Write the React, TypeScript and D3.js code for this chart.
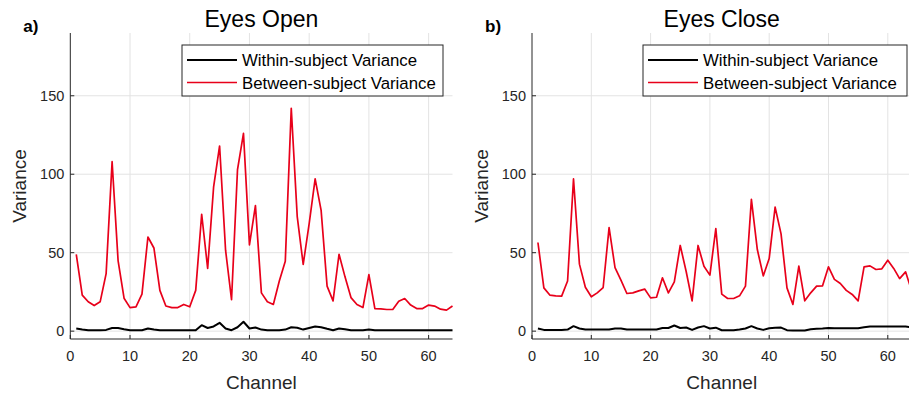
import React from "react";
import * as d3 from "d3";

const channels = d3.range(1, 65);

const openWithin = [1.7, 1.0, 0.6, 0.6, 0.6, 0.8, 2.0, 2.0, 1.2, 0.6, 0.6, 0.6, 1.7, 1.0, 0.6, 0.6, 0.6, 0.6, 0.6, 0.6, 0.6, 3.8, 2.0, 3.0, 5.3, 1.7, 0.6, 2.5, 6.0, 1.7, 2.3, 1.0, 0.6, 0.6, 0.6, 1.0, 2.5, 2.2, 1.0, 2.0, 3.0, 2.5, 1.5, 0.6, 1.7, 1.2, 0.6, 0.6, 0.6, 1.0, 0.6, 0.6, 0.6, 0.6, 0.6, 0.6, 0.6, 0.6, 0.6, 0.6, 0.6, 0.6, 0.6, 0.6];
const openBetween = [49, 23, 18.7, 16.3, 18.7, 36.7, 108, 45, 21, 15, 15.5, 23.6, 60, 53, 26, 16, 15, 15, 17, 15.5, 26, 74.5, 40, 92, 118, 51.6, 20, 103, 126, 55, 80, 24.4, 18.7, 17, 32, 44.6, 142, 73, 42.5, 68.6, 97, 77, 28.7, 19.3, 49, 34.6, 21.4, 17, 15, 36, 14.4, 14.2, 13.8, 13.8, 19, 20.8, 16.6, 14.4, 14.4, 16.6, 16, 14, 13.4, 16];
const closeWithin = [1.7, 0.8, 0.8, 0.8, 0.8, 1.0, 3.2, 1.7, 1.0, 1.0, 1.0, 1.0, 1.0, 1.7, 1.7, 1.0, 1.0, 1.0, 1.0, 1.0, 1.0, 2.0, 2.0, 3.6, 2.0, 2.3, 0.8, 2.3, 3.2, 1.7, 2.2, 0.6, 0.6, 0.6, 1.0, 1.7, 3.2, 1.7, 0.8, 1.9, 2.1, 2.3, 0.6, 0.4, 0.4, 0.4, 1.2, 1.5, 1.7, 2.0, 1.9, 1.9, 1.9, 1.9, 1.9, 2.5, 3.0, 3.0, 3.0, 3.0, 3.0, 3.0, 3.0, 2.4];
const closeBetween = [56.5, 27.6, 23, 22.5, 22.3, 32, 97, 42.7, 28, 21.9, 24.4, 27.8, 66, 40.5, 32.5, 24, 24.4, 25.7, 26.8, 21.2, 21.6, 34, 24.4, 31.4, 54.6, 38, 19.3, 54.6, 41.4, 35.7, 65.4, 23.6, 20.8, 20.8, 22.5, 28.7, 84, 52, 35.2, 46.3, 79, 62, 27.6, 17, 41.4, 19.3, 24.4, 28.7, 28.9, 41, 33, 30.4, 26, 23.4, 19.3, 41, 41.6, 39.3, 39.7, 45.2, 40, 33.5, 37.8, 26];

const xTicks = [0, 10, 20, 30, 40, 50, 60];
const yTicks = [0, 50, 100, 150];
const seriesNames = ["Within-subject Variance", "Between-subject Variance"];
const seriesColors = ["#000000", "#e8001a"];

const FONT = "'Liberation Sans', Arial, sans-serif";

type PanelProps = {
  left: number;
  right: number;
  title: string;
  letter: string;
  within: number[];
  between: number[];
  legendX: number;
  legendW: number;
};

function Panel({ left, right, title, letter, within, between, legendX, legendW }: PanelProps) {
  const top = 33;
  const bottom = 339;
  const x = d3.scaleLinear().domain([0, 64]).range([left, right]);
  const y = d3.scaleLinear().domain([-5, 190]).range([bottom, top]);
  const line = d3
    .line<number>()
    .x((_, i) => x(channels[i]))
    .y((d) => y(d));
  const gridX = d3.range(10, 65, 10);
  const axisColor = "#262626";
  const gridColor = "#e3e3e3";
  const legY = 45;
  const legH = 51;
  return (
    <g>
      {gridX.map((t) => (
        <line key={"gx" + t} x1={x(t)} x2={x(t)} y1={top} y2={bottom} stroke={gridColor} strokeWidth={1} />
      ))}
      {yTicks.map((t) => (
        <line key={"gy" + t} x1={left} x2={right} y1={y(t)} y2={y(t)} stroke={gridColor} strokeWidth={1} />
      ))}
      <path d={line(within) || ""} fill="none" stroke={seriesColors[0]} strokeWidth={2} strokeLinejoin="round" />
      <path d={line(between) || ""} fill="none" stroke={seriesColors[1]} strokeWidth={1.7} strokeLinejoin="round" />
      <line x1={left} x2={left} y1={top} y2={bottom} stroke={axisColor} strokeWidth={1} />
      <line x1={left} x2={right} y1={bottom} y2={bottom} stroke={axisColor} strokeWidth={1} />
      {xTicks.map((t) => (
        <g key={"xt" + t}>
          <line x1={x(t)} x2={x(t)} y1={bottom} y2={bottom - 4} stroke={axisColor} />
          <text x={x(t)} y={361} textAnchor="middle" fontSize={14.5} fill={axisColor} fontFamily={FONT}>
            {t}
          </text>
        </g>
      ))}
      {yTicks.map((t) => (
        <g key={"yt" + t}>
          <line x1={left} x2={left + 4} y1={y(t)} y2={y(t)} stroke={axisColor} />
          <text x={left - 6} y={y(t) + 5} textAnchor="end" fontSize={14.5} fill={axisColor} fontFamily={FONT}>
            {t}
          </text>
        </g>
      ))}
      <text x={(left + right) / 2} y={389} textAnchor="middle" fontSize={19} fill={axisColor} fontFamily={FONT}>
        Channel
      </text>
      <text
        transform={`translate(${left - 44},${(top + bottom) / 2}) rotate(-90)`}
        textAnchor="middle"
        fontSize={19}
        fill={axisColor}
        fontFamily={FONT}
      >
        Variance
      </text>
      <text x={(left + right) / 2} y={27} textAnchor="middle" fontSize={23} fill="#000" fontFamily={FONT}>
        {title}
      </text>
      <text x={left - 47} y={32} textAnchor="start" fontSize={17} fontWeight="bold" fill="#000" fontFamily={FONT}>
        {letter}
      </text>
      <rect x={legendX} y={legY} width={legendW} height={legH} fill="#fff" stroke={axisColor} strokeWidth={1} />
      {seriesNames.map((n, i) => (
        <g key={n}>
          <line
            x1={legendX + 5}
            x2={legendX + 55}
            y1={legY + 15 + i * 22.5}
            y2={legY + 15 + i * 22.5}
            stroke={seriesColors[i]}
            strokeWidth={i === 0 ? 2 : 1.6}
          />
          <text x={legendX + 60} y={legY + 21 + i * 22.5} fontSize={16.8} fill="#000" fontFamily={FONT}>
            {n}
          </text>
        </g>
      ))}
    </g>
  );
}

export default function App() {
  return (
    <svg width={909} height={395} style={{ display: "block", position: "absolute", left: 0, top: 0, background: "#fff" }}>
      <rect x={0} y={0} width={909} height={395} fill="#fff" />
      <Panel
        left={70.3}
        right={452.5}
        title="Eyes Open"
        letter="a)"
        within={openWithin}
        between={openBetween}
        legendX={182}
        legendW={261}
      />
      <Panel
        left={532}
        right={911.5}
        title="Eyes Close"
        letter="b)"
        within={closeWithin}
        between={closeBetween}
        legendX={643}
        legendW={264}
      />
    </svg>
  );
}
